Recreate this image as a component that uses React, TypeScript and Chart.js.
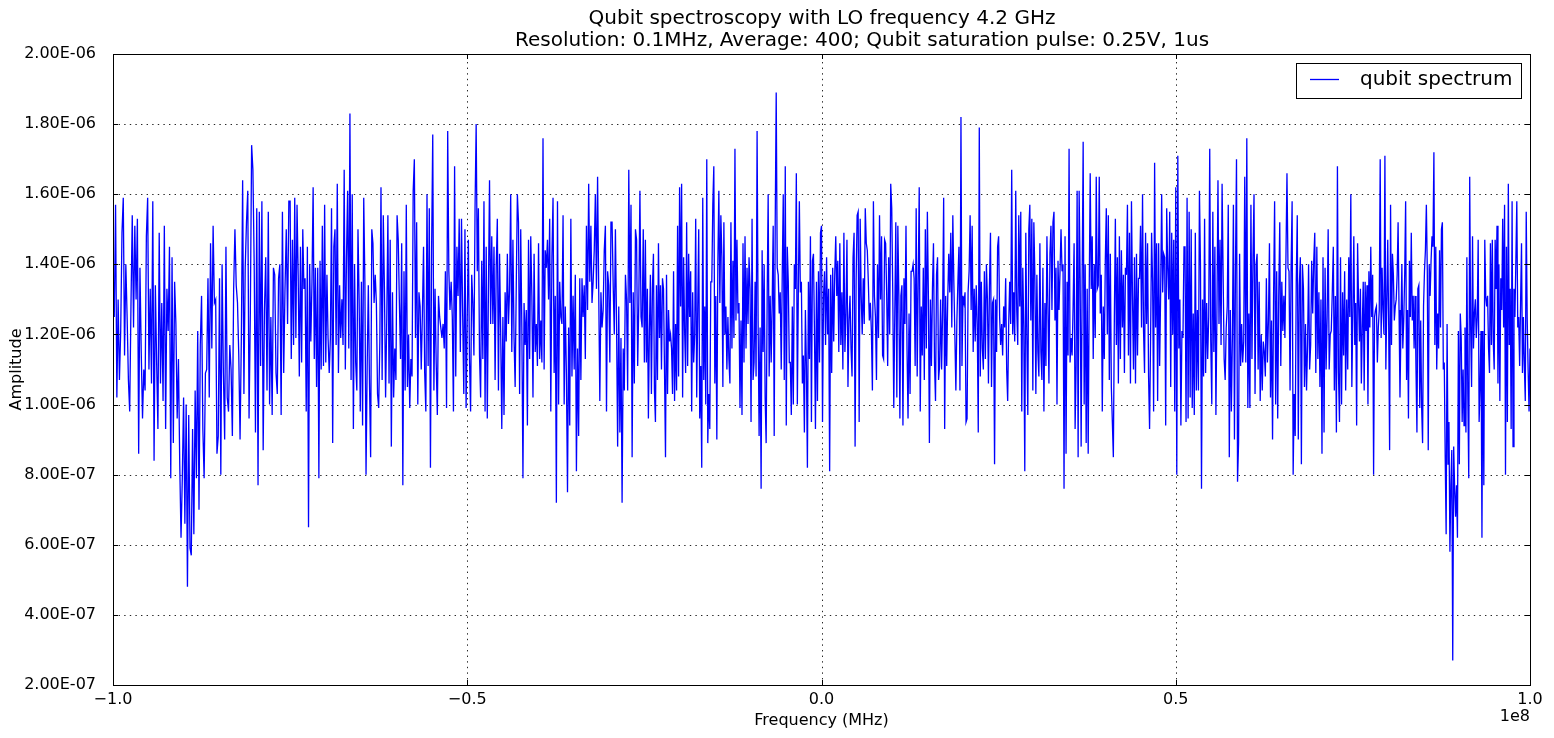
import { useEffect, useRef } from "react";
import { Chart, registerables } from "chart.js";

Chart.register(...registerables);

const titleLine1 = "Qubit spectroscopy with LO frequency 4.2 GHz";
const titleLine2 = "Resolution: 0.1MHz, Average: 400; Qubit saturation pulse: 0.25V, 1us";
const xLabel = "Frequency (MHz)";
const yLabel = "Amplitude";
const seriesLabel = "qubit spectrum";

// frequency in MHz; each block of readings covers 25 MHz
const segmentStarts = [-100, -75, -50, -25, 0, 25, 50, 75];
const segmentSpan = 25;

// amplitude readings, in units of 1e-6
const seg1 = [
  1.33, 1.25, 1.57, 1.02, 1.30, 1.07, 1.21, 1.49, 1.59, 1.14, 1.40, 1.25, 1.07, 0.98, 1.28, 1.54,
  1.22, 1.51, 1.30, 1.53, 0.86, 1.39, 1.15, 0.96, 1.10, 1.04, 1.48, 1.59, 1.10, 1.33, 1.06, 1.58,
  0.84, 1.34, 1.12, 0.93, 1.49, 1.06, 1.29, 1.01, 1.51, 0.93, 1.33, 1.21, 1.45, 0.79, 1.42, 0.89,
  1.35, 1.23, 0.96, 1.13, 0.83, 0.62, 0.79, 1.02, 0.66, 1.00, 0.48, 0.97, 0.59, 0.57, 0.93, 0.63,
  1.04, 0.79, 1.21, 0.70, 1.17, 1.31, 0.93, 0.79, 1.09, 1.10, 1.36, 1.02, 1.46, 1.16, 1.51, 1.29,
  1.30, 0.86, 0.91, 1.36, 0.80, 1.40, 1.09, 0.90, 1.45, 1.02, 0.98, 1.17, 1.10, 0.91, 1.33, 1.50,
  1.34, 1.29, 1.14, 0.90, 1.19, 1.64, 1.03, 1.39, 1.52, 1.61, 0.96, 1.26, 1.74, 1.67, 1.40, 0.92,
  1.56, 0.77, 1.55, 1.11, 1.58, 0.87, 1.27, 1.42, 1.04, 1.55, 1.00, 1.25, 0.97, 1.39, 1.37, 1.09,
  1.03, 1.36, 1.40, 0.97, 1.55, 1.09, 1.33, 1.50, 1.23, 1.58,
];
const seg2 = [
  1.58, 1.13, 1.47, 1.17, 1.59, 1.19, 1.57, 1.37, 1.08, 1.45, 1.12, 1.50, 1.33, 1.36, 0.98, 1.45,
  0.65, 1.40, 1.18, 1.35, 1.62, 1.13, 1.39, 1.05, 1.39, 0.79, 1.41, 1.10, 1.51, 1.11, 1.57, 1.12,
  1.37, 1.19, 1.09, 1.19, 1.56, 0.89, 1.45, 1.50, 1.17, 1.63, 1.09, 1.34, 1.19, 1.30, 1.17, 1.67,
  1.10, 1.42, 1.61, 1.16, 1.83, 1.07, 1.60, 0.93, 1.40, 1.12, 1.04, 1.50, 1.30, 0.98, 1.35, 0.94,
  1.59, 1.35, 0.80, 1.11, 1.34, 1.06, 0.85, 1.50, 1.46, 1.29, 1.37, 1.29, 1.03, 0.99, 1.18, 1.62,
  1.07, 1.54, 1.33, 1.02, 1.24, 1.54, 1.06, 1.47, 0.88, 1.32, 1.02, 1.16, 1.07, 1.54, 1.47, 1.29,
  1.13, 1.46, 0.77, 1.38, 1.04, 1.57, 1.05, 1.20, 0.99, 1.13, 1.08, 1.61, 1.70, 1.19, 1.52, 1.00,
  1.32, 1.28, 1.10, 1.26, 1.45, 1.09, 0.98, 1.60, 1.11, 1.56, 0.82, 1.44, 1.77, 1.04, 1.33, 1.12,
  0.97, 1.31, 1.25, 1.22, 1.19, 1.23, 1.16, 1.38, 0.99, 1.78, 1.38, 1.27, 1.35, 1.25, 0.98, 1.68,
  1.08, 1.45, 1.31, 1.53, 1.15, 1.53, 1.26, 1.03, 1.50, 0.99,
];
const seg3 = [
  1.25, 1.47, 1.13, 0.98, 1.37, 1.29, 1.14, 1.56, 1.80, 1.38, 1.56, 1.14, 1.02, 1.41, 1.13, 1.58,
  0.98, 1.45, 0.96, 1.32, 1.64, 1.23, 1.48, 1.23, 1.45, 1.07, 1.39, 1.53, 1.04, 1.43, 1.21, 0.93,
  1.25, 0.97, 1.32, 1.18, 1.43, 1.23, 1.33, 1.60, 1.15, 1.47, 1.19, 1.05, 1.34, 1.60, 1.52, 1.03,
  1.50, 1.22, 0.79, 1.29, 1.17, 1.27, 0.94, 1.47, 1.13, 1.48, 1.31, 1.02, 1.43, 1.15, 1.23, 1.11,
  1.46, 1.13, 1.24, 1.12, 1.76, 1.10, 1.44, 1.39, 1.47, 1.30, 1.53, 0.98, 1.42, 1.59, 1.09, 1.31,
  0.72, 1.58, 1.00, 1.35, 1.25, 1.23, 1.54, 1.00, 1.28, 1.09, 0.75, 1.22, 0.94, 1.53, 1.08, 1.31,
  1.10, 1.37, 0.81, 1.16, 0.91, 1.36, 1.07, 1.36, 1.25, 1.34, 1.13, 1.51, 1.27, 1.63, 1.35, 1.51,
  1.29, 1.35, 1.44, 1.60, 1.33, 1.65, 1.33, 1.01, 1.32, 1.22, 1.27, 1.44, 1.51, 0.98, 1.38, 1.34,
  1.12, 1.52, 1.52, 1.34, 1.20, 1.50, 1.24, 0.88, 1.28, 0.92, 1.19, 0.72, 1.16, 1.04, 1.37, 1.30,
  1.04, 1.67, 1.29, 1.57, 0.85, 1.32, 1.06, 1.50, 1.47, 1.11, 1.29, 1.61, 1.25, 1.22, 1.50,
];
const seg4 = [
  1.12, 1.47, 1.12, 1.33, 0.96, 1.21, 1.37, 1.03, 1.33, 1.43, 1.04, 0.95, 1.34, 1.07, 1.46, 1.19,
  1.34, 1.10, 1.36, 1.33, 1.10, 0.85, 1.37, 1.03, 1.27, 1.18, 1.20, 1.16, 1.03, 1.38, 1.01, 1.23,
  1.04, 1.51, 1.08, 1.62, 1.28, 1.63, 1.02, 1.42, 1.21, 1.09, 1.52, 1.11, 1.43, 1.25, 1.38, 0.98,
  1.32, 1.12, 1.20, 1.53, 1.02, 1.27, 1.50, 0.96, 1.11, 0.82, 1.59, 1.07, 1.28, 1.00, 1.70, 0.89,
  1.03, 0.93, 1.35, 1.35, 1.57, 1.68, 1.06, 1.31, 0.90, 1.40, 1.61, 1.29, 1.54, 1.42, 1.05, 1.52,
  1.20, 1.28, 1.10, 1.25, 1.13, 1.06, 1.52, 1.16, 1.41, 1.19, 1.73, 1.24, 1.47, 1.26, 1.29, 0.99,
  1.24, 0.97, 1.46, 1.12, 1.48, 1.16, 1.39, 1.23, 1.42, 1.33, 0.95, 1.53, 1.07, 1.12, 1.35, 1.08,
  1.78, 1.24, 0.91, 1.22, 0.76, 1.44, 1.15, 1.40, 1.02, 0.89, 1.30, 1.60, 1.08, 1.31, 1.12, 1.29,
  1.51, 0.91, 1.51, 1.89, 1.39, 1.37, 1.26, 1.32, 1.10, 1.37, 1.60, 1.07, 1.68, 0.94, 1.45, 1.35,
  1.12, 1.12, 0.97, 1.28, 1.00, 1.40, 1.33, 1.66, 1.00, 1.33, 1.58, 1.32, 1.35, 1.06, 1.14, 0.92,
  1.27, 1.11, 0.82, 1.35, 1.13, 1.48, 0.95, 1.41, 1.43, 1.21, 0.93, 1.35, 1.01, 1.38, 1.12, 1.49,
];
const seg5 = [
  1.51, 0.95, 1.31, 1.38, 1.17, 1.42, 1.20, 1.33, 0.81, 1.37, 1.09, 1.39, 1.18, 1.37, 1.48, 1.31,
  1.41, 1.15, 1.46, 1.17, 1.32, 1.10, 1.49, 1.15, 1.26, 1.47, 1.05, 1.24, 1.31, 1.16, 1.08, 1.42,
  1.49, 0.88, 1.35, 1.54, 1.55, 0.95, 1.53, 1.31, 1.20, 1.36, 1.23, 1.56, 1.46, 1.44, 1.35, 1.24,
  1.29, 1.21, 1.04, 1.58, 1.31, 1.25, 1.07, 1.40, 1.19, 1.54, 1.30, 1.48, 1.14, 1.13, 1.47, 1.46,
  1.32, 1.11, 1.42, 1.20, 1.63, 1.56, 1.32, 0.99, 1.26, 1.52, 1.02, 1.51, 1.31, 0.96, 1.31, 1.34,
  0.94, 1.36, 1.23, 1.51, 1.16, 0.96, 1.26, 1.03, 1.38, 1.38, 1.40, 1.36, 1.11, 1.56, 1.08, 1.35,
  1.62, 0.98, 1.28, 1.14, 1.39, 1.07, 1.50, 1.16, 1.55, 1.31, 0.89, 1.30, 1.11, 1.33, 1.46, 1.12,
  1.01, 1.37, 1.42, 1.07, 1.11, 1.30, 1.10, 1.27, 1.59, 0.93, 1.31, 1.11, 1.30, 1.43, 1.32, 1.49,
  1.22, 1.54, 1.35, 1.20, 1.04, 1.24, 1.35, 1.45, 1.04, 1.82, 1.11, 1.31, 1.29, 1.32, 0.95, 0.96,
  1.32, 1.38, 1.54, 1.27, 1.51, 1.15, 1.33, 1.18, 1.34, 1.23, 0.92, 1.79, 1.08, 1.35, 1.16, 1.10,
  1.38, 1.13, 1.40, 1.30, 1.06, 1.34, 1.49, 1.05, 1.29, 1.30, 0.83, 1.30, 1.15, 1.45,
];
const seg6 = [
  1.48, 1.25, 1.17, 1.23, 1.14, 1.28, 1.22, 1.36, 1.10, 1.01, 1.23, 1.35, 1.23, 1.67, 1.20, 1.32,
  1.18, 1.61, 1.27, 1.17, 1.54, 1.28, 1.55, 0.98, 1.39, 1.22, 0.81, 1.49, 1.20, 0.97, 1.50, 1.57,
  1.24, 1.53, 1.04, 1.52, 1.37, 1.03, 1.37, 1.15, 1.08, 1.46, 1.15, 1.07, 1.39, 0.98, 1.29, 1.11,
  1.48, 1.28, 1.06, 1.43, 1.51, 1.27, 1.52, 1.55, 1.24, 1.39, 1.00, 1.41, 1.27, 1.38, 1.50, 1.38,
  1.40, 0.76, 1.48, 0.86, 1.35, 1.14, 1.73, 1.12, 1.19, 1.14, 1.28, 1.46, 0.93, 1.11, 1.61, 0.85,
  1.61, 1.36, 0.88, 1.35, 1.75, 1.00, 1.40, 0.89, 1.33, 0.86, 1.32, 1.66, 1.33, 1.48, 1.13, 1.40,
  1.19, 1.65, 1.33, 1.34, 1.65, 1.26, 1.37, 0.98, 1.28, 1.13, 1.41, 1.56, 1.20, 1.54, 1.07, 1.43,
  1.05, 0.95, 0.85, 1.25, 1.53, 1.17, 1.42, 1.06, 1.48, 1.13, 1.44, 1.22, 1.37, 1.09, 1.39, 1.37,
  1.57, 1.14, 1.49, 1.06, 1.58, 1.31, 1.10, 1.42, 1.06, 1.43, 1.14, 1.36, 1.36, 1.51, 1.22, 1.60,
  1.21, 1.09, 1.49, 1.23, 1.46, 1.08, 0.93, 1.19, 1.49, 1.35, 0.98, 1.69, 1.22, 1.46, 1.01, 1.46,
  1.11, 1.32, 1.60, 1.32, 1.43, 1.42, 0.94, 1.56, 1.39, 1.30, 1.55, 1.05, 1.49, 1.20, 1.47, 0.98,
];
const seg7 = [
  1.62, 0.80, 1.71, 1.16, 1.30, 0.94, 1.21, 1.19, 1.45, 1.45, 0.95, 1.59, 0.96, 1.55, 1.02, 1.50,
  0.99, 1.26, 0.97, 1.49, 1.04, 1.27, 1.04, 1.61, 1.40, 0.76, 1.30, 1.08, 1.53, 1.09, 1.29, 1.13,
  1.25, 1.73, 1.18, 1.00, 1.55, 1.15, 1.45, 0.97, 1.27, 1.64, 1.23, 1.47, 1.17, 1.63, 1.37, 1.13,
  1.07, 1.22, 1.28, 1.57, 0.85, 1.27, 0.98, 1.19, 1.57, 0.90, 1.39, 1.70, 0.78, 0.89, 1.43, 1.11,
  1.23, 1.12, 1.18, 1.65, 1.12, 1.76, 0.99, 1.26, 0.99, 1.57, 1.13, 1.42, 1.60, 1.03, 1.40, 1.43,
  1.10, 1.35, 1.01, 1.20, 1.04, 1.18, 1.15, 1.08, 1.36, 1.12, 1.24, 1.46, 1.02, 1.24, 0.90, 1.31,
  1.58, 1.00, 1.38, 0.96, 1.31, 1.52, 1.11, 1.35, 1.21, 1.31, 1.19, 1.42, 1.66, 1.39, 1.38, 1.04,
  1.39, 1.58, 0.80, 1.03, 0.91, 1.35, 1.54, 0.90, 1.34, 1.42, 0.83, 1.40, 1.33, 1.05, 1.23, 1.04,
  1.17, 1.40, 1.10, 1.17, 1.41, 1.26, 1.41, 1.49, 1.09, 1.45, 1.13, 1.32, 1.05, 1.30, 0.86, 1.42,
  0.92, 1.39, 1.10, 1.25, 1.50, 1.10, 1.20, 1.21, 1.32, 1.45, 1.04, 1.31, 0.92, 1.68, 1.09, 0.95,
  1.42, 1.00, 1.32, 1.14, 1.38, 1.04, 1.30, 1.10, 1.42, 1.25, 1.60, 1.05,
];
const seg8 = [
  1.27, 1.48, 1.17, 1.29, 0.94, 1.46, 1.30, 1.18, 1.33, 1.06, 1.22, 1.35, 1.04, 1.35, 1.21, 1.34,
  1.00, 1.38, 1.22, 1.45, 1.25, 1.37, 0.80, 1.25, 1.27, 1.28, 1.12, 1.22, 1.27, 1.70, 1.19, 1.39,
  1.27, 1.20, 1.71, 1.10, 1.29, 1.47, 1.23, 0.87, 1.57, 1.17, 1.43, 1.37, 1.24, 1.28, 1.30, 1.37,
  1.52, 1.27, 1.02, 1.22, 1.40, 1.16, 1.24, 1.37, 1.58, 1.07, 1.27, 0.96, 1.41, 1.25, 1.49, 1.24,
  1.31, 1.16, 1.31, 1.10, 0.92, 1.33, 1.34, 0.99, 1.24, 0.99, 0.89, 1.28, 1.38, 1.44, 1.57, 1.38,
  0.87, 1.40, 1.31, 1.41, 1.48, 1.45, 1.72, 1.17, 1.45, 1.10, 1.26, 1.16, 1.44, 1.22, 1.50, 1.52,
  1.10, 1.12, 0.85, 0.63, 1.23, 0.83, 0.95, 0.58, 0.77, 0.87, 0.27, 0.88, 0.76, 0.68, 0.77, 0.62,
  1.21, 0.83, 1.26, 1.19, 0.95, 1.10, 0.94, 1.22, 0.92, 1.42, 1.03, 0.79, 1.65, 1.22, 1.05, 1.48,
  1.16, 1.26, 1.30, 1.19, 1.25, 1.47, 0.95, 1.05, 1.21, 0.62, 1.21, 0.77, 1.47, 1.31, 1.28, 1.31,
  1.16, 1.09, 1.46, 1.17, 1.47, 1.18, 1.10, 1.47, 1.33, 1.51, 1.06, 1.40, 1.01, 1.36, 1.27, 1.53,
  1.22, 1.57, 0.80, 1.45, 0.95, 1.63, 1.17, 1.33, 0.93, 1.58, 0.88, 1.33, 1.25, 1.41, 1.58, 1.22,
  1.25, 1.11, 1.29, 1.46, 1.09, 1.25, 1.11, 1.01, 1.55, 1.25, 1.10, 0.98, 1.16,
];

const xTicks = [-100, -50, 0, 50, 100];
const yTicks = [0.2, 0.4, 0.6, 0.8, 1.0, 1.2, 1.4, 1.6, 1.8, 2.0];

const segments = [seg1, seg2, seg3, seg4, seg5, seg6, seg7, seg8];

const points = segments.flatMap((seg, k) => {
  const last = k === segments.length - 1;
  const div = last ? seg.length - 1 : seg.length;
  return seg.map((v, j) => ({ x: segmentStarts[k] + (segmentSpan * j) / div, y: v }));
});

const FONT = "'DejaVu Sans', sans-serif";

const formatAmp = (v: number) => {
  const val = v * 1e-6;
  const e = Math.floor(Math.log10(val) + 1e-9);
  const m = val / Math.pow(10, e);
  return `${m.toFixed(2)}E-${String(-e).padStart(2, "0")}`;
};

const formatFreq = (v: number) => (v / 100).toFixed(1).replace("-", "\u2212");

const decorPlugin = {
  id: "decor",
  beforeDatasetsDraw(chart: any) {
    const { ctx, chartArea: a, scales } = chart;
    ctx.save();
    ctx.strokeStyle = "rgba(0,0,0,0.85)";
    ctx.lineWidth = 1;
    ctx.setLineDash([1.4, 4.2]);
    for (const t of xTicks) {
      const px = Math.round(scales.x.getPixelForValue(t)) + 0.5;
      ctx.beginPath();
      ctx.moveTo(px, a.bottom);
      ctx.lineTo(px, a.top);
      ctx.stroke();
    }
    for (const t of yTicks) {
      const py = Math.round(scales.y.getPixelForValue(t)) + 0.5;
      ctx.beginPath();
      ctx.moveTo(a.left, py);
      ctx.lineTo(a.right, py);
      ctx.stroke();
    }
    ctx.restore();
  },
  afterDatasetsDraw(chart: any) {
    const { ctx, chartArea: a, scales } = chart;
    ctx.save();
    ctx.strokeStyle = "#000";
    ctx.lineWidth = 1;
    ctx.strokeRect(Math.round(a.left) + 0.5, Math.round(a.top) + 0.5, Math.round(a.right - a.left), Math.round(a.bottom - a.top));
    const tl = 5;
    ctx.beginPath();
    for (const t of xTicks) {
      const px = Math.round(scales.x.getPixelForValue(t)) + 0.5;
      ctx.moveTo(px, a.bottom);
      ctx.lineTo(px, a.bottom - tl);
      ctx.moveTo(px, a.top);
      ctx.lineTo(px, a.top + tl);
    }
    for (const t of yTicks) {
      const py = Math.round(scales.y.getPixelForValue(t)) + 0.5;
      ctx.moveTo(a.left, py);
      ctx.lineTo(a.left + tl, py);
      ctx.moveTo(a.right, py);
      ctx.lineTo(a.right - tl, py);
    }
    ctx.stroke();

    // legend
    const lx = 1296.5;
    const ly = 63.5;
    ctx.fillStyle = "#fff";
    ctx.fillRect(lx, ly, 225, 35);
    ctx.strokeRect(lx, ly, 225, 35);
    ctx.strokeStyle = "#0000ff";
    ctx.lineWidth = 1.3;
    ctx.beginPath();
    ctx.moveTo(1310, 79.5);
    ctx.lineTo(1339, 79.5);
    ctx.stroke();
    ctx.fillStyle = "#000";
    ctx.font = `20px ${FONT}`;
    ctx.textAlign = "left";
    ctx.textBaseline = "middle";
    ctx.fillText(seriesLabel, 1360, 80);

    // titles and labels
    ctx.textAlign = "center";
    ctx.fillText(titleLine1, 822, 19);
    ctx.fillText(titleLine2, 862, 41);
    ctx.font = `16px ${FONT}`;
    ctx.fillText(xLabel, (a.left + a.right) / 2, 721);
    ctx.textAlign = "right";
    ctx.fillText("1e8", a.right, 717);
    ctx.translate(17, (a.top + a.bottom) / 2);
    ctx.rotate(-Math.PI / 2);
    ctx.textAlign = "center";
    ctx.fillText(yLabel, 0, 0);
    ctx.restore();
  },
};

export default function App() {
  const canvasRef = useRef<HTMLCanvasElement>(null);

  useEffect(() => {
    document.body.style.margin = "0";
    if (!canvasRef.current) return;
    const chart = new Chart(canvasRef.current, {
      type: "line",
      data: {
        datasets: [
          {
            label: seriesLabel,
            data: points,
            borderColor: "#0000ff",
            borderWidth: 1.3,
            pointRadius: 0,
            tension: 0,
            fill: false,
          },
        ],
      },
      options: {
        responsive: true,
        maintainAspectRatio: false,
        animation: false,
        layout: { padding: { top: 54, right: 24, bottom: 0, left: 0 } },
        plugins: {
          legend: { display: false },
          tooltip: { enabled: false },
          title: { display: false },
        },
        scales: {
          x: {
            type: "linear",
            min: -100,
            max: 100,
            grid: { display: false },
            border: { display: false },
            ticks: {
              stepSize: 50,
              padding: -3,
              maxRotation: 0,
              color: "#000",
              font: { family: FONT, size: 16 },
              callback: (v: any) => formatFreq(Number(v)),
            },
            afterFit: (s: any) => {
              s.height = 53;
              s.paddingLeft = 0;
              s.paddingRight = 0;
            },
          },
          y: {
            type: "linear",
            min: 0.2,
            max: 2.0,
            grid: { display: false },
            border: { display: false },
            ticks: {
              stepSize: 0.2,
              padding: 9,
              color: "#000",
              font: { family: FONT, size: 16 },
              callback: (v: any) => formatAmp(Number(v)),
            },
            afterFit: (s: any) => {
              s.width = 113;
              s.paddingTop = 0;
              s.paddingBottom = 0;
            },
          },
        },
      },
      plugins: [decorPlugin],
    });
    return () => chart.destroy();
  }, []);

  return (
    <div style={{ width: 1554, height: 738, position: "relative", background: "#fff" }}>
      <canvas ref={canvasRef} />
    </div>
  );
}
